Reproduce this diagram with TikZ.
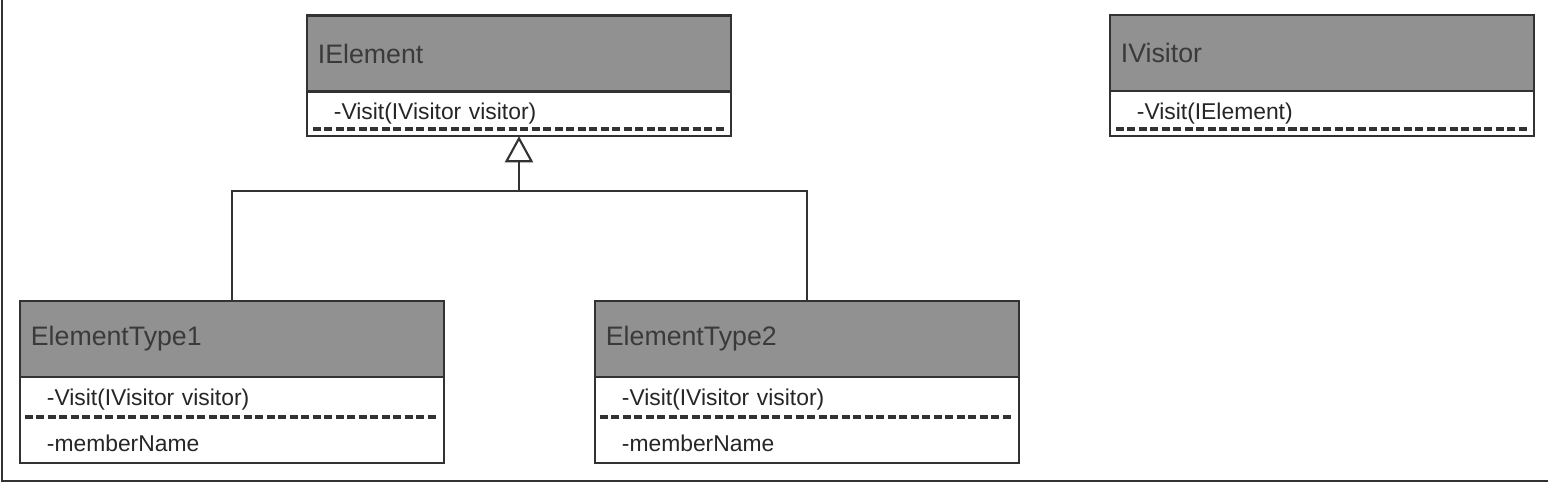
\documentclass[tikz,border=0pt]{standalone}
\usepackage{fontspec}
\setmainfont{Liberation Sans}
\usetikzlibrary{positioning,arrows.meta}
\definecolor{headfill}{RGB}{145,145,145}
\definecolor{headtext}{RGB}{58,58,58}
\definecolor{linegray}{RGB}{50,50,50}
\begin{document}
\begin{tikzpicture}[x=0.01cm, y=-0.01cm,
	head/.style = {draw=linegray, line width=0.6pt, fill=headfill, text=headtext, font=\fontsize{7.6}{9}\selectfont, minimum width=4.24cm, minimum height=0.76cm, inner xsep=0.11cm, text width=4.02cm, align=left, outer sep=0pt},
	body/.style = {draw=linegray, line width=0.6pt, fill=white, text=black!85, font=\fontsize{6.5}{13}\selectfont, minimum width=4.24cm, inner xsep=0.27cm, text width=3.70cm, align=left, outer sep=0pt},
	sep/.style = {linegray, line width=1.1pt, dash pattern=on 0.08cm off 0.035cm},
	gen/.style = {linegray, line width=0.6pt, -{Triangle[open, length=0.26cm, width=0.28cm]}}]
	\useasboundingbox (0,0) rectangle (1548,486);
	% frame
	\draw[linegray, line width=0.8pt] (2,0) |- (1548,481);
	% classes
	\node[head] (ie) at (519,53.5) {IElement};
	\node[body, minimum height=0.44cm] (ieb) [below=0pt of ie] {-Visit(IVisitor visitor)};
	\node[head] (iv) at (1322,53) {IVisitor};
	\node[body, minimum height=0.42cm] (ivb) [below=0pt of iv] {-Visit(IElement)};
	\node[head] (et1) at (232,339) {ElementType1};
	\node[body, minimum height=0.85cm] (et1b) [below=0pt of et1] {-Visit(IVisitor visitor)\\-memberName};
	\node[head] (et2) at (807,339) {ElementType2};
	\node[body, minimum height=0.84cm] (et2b) [below=0pt of et2] {-Visit(IVisitor visitor)\\-memberName};
	% separators
	\draw[sep] ([shift={(6,-7)}]ieb.south west) -- ([shift={(-5,-7)}]ieb.south east);
	\draw[sep] ([shift={(6,-7)}]ivb.south west) -- ([shift={(-5,-7)}]ivb.south east);
	\draw[sep] ([shift={(5,-3)}]et1b.west) -- ([shift={(-5,-3)}]et1b.east);
	\draw[sep] ([shift={(5,-3)}]et2b.west) -- ([shift={(-5,-3)}]et2b.east);
	% generalization
	\coordinate (fork) at (519,191);
	\draw[linegray, line width=0.6pt] (et1.north) |- (fork) -| (et2.north);
	\draw[gen] (fork) -- (ieb.south);
\end{tikzpicture}
\end{document}
